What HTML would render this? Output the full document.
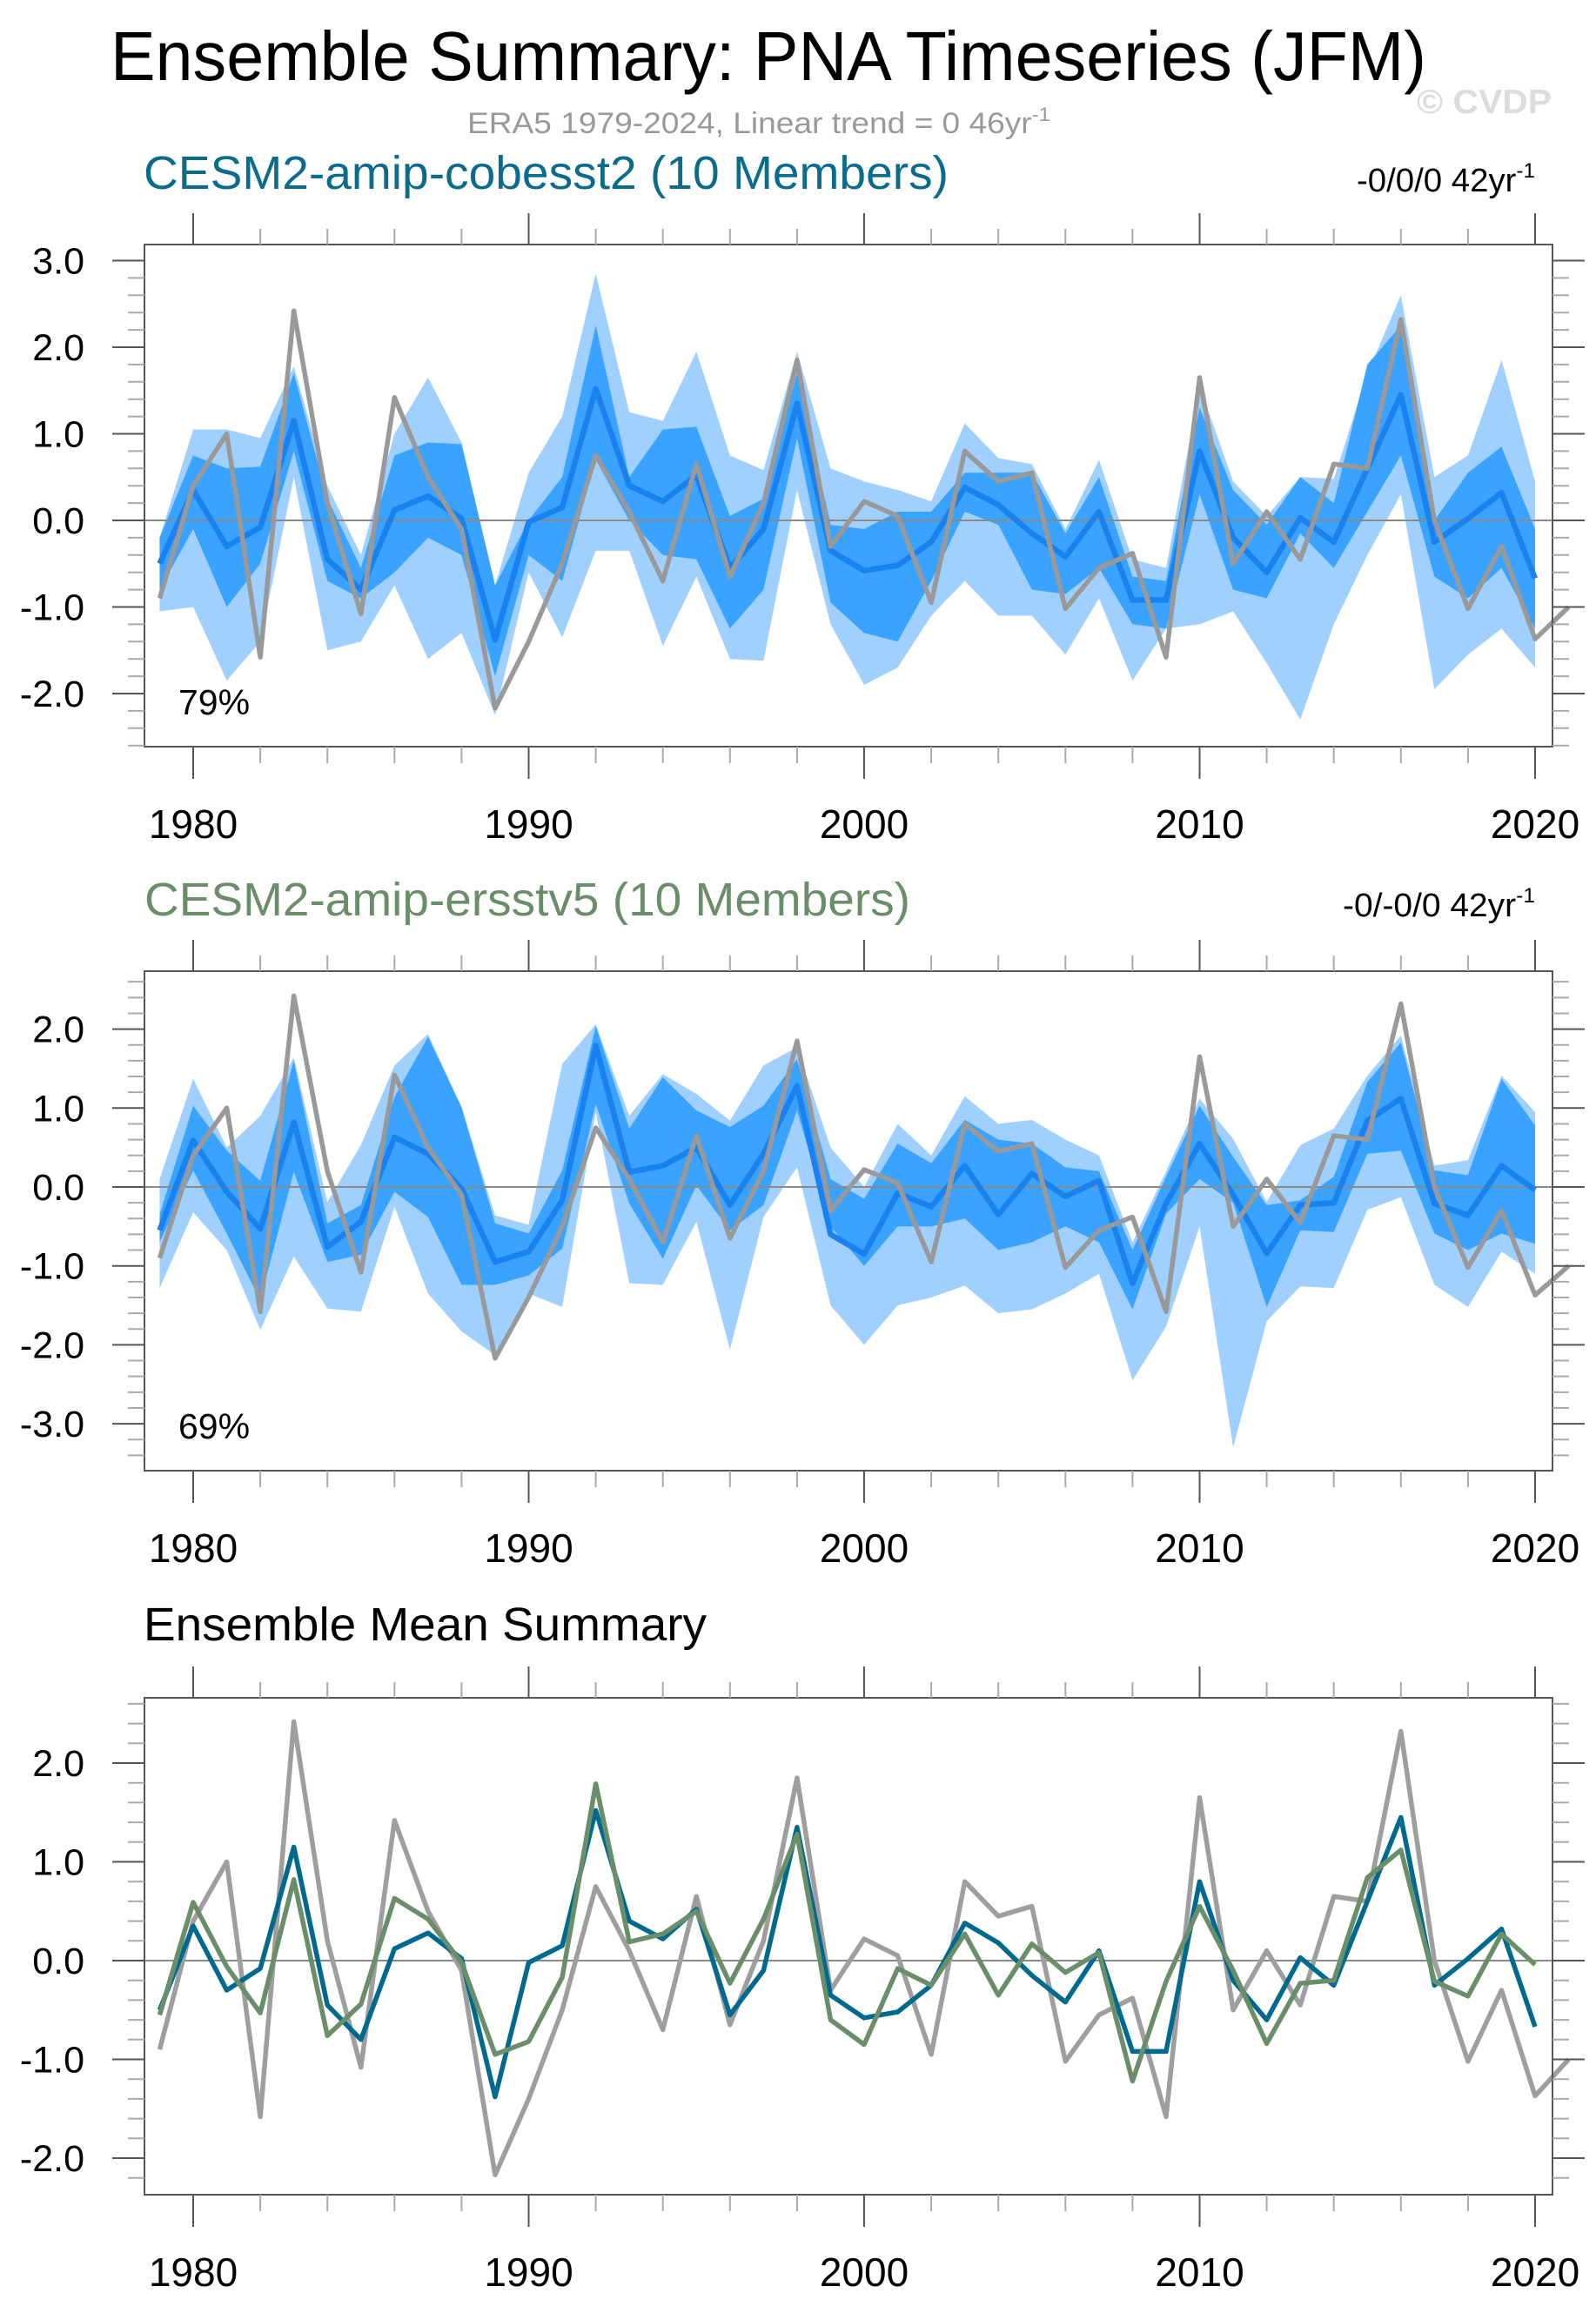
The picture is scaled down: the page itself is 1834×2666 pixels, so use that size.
<!DOCTYPE html>
<html><head><meta charset="utf-8"><style>
html,body{margin:0;padding:0;background:#fff;}
svg{display:block;font-family:"Liberation Sans",Arial,sans-serif;}
</style></head><body>
<svg id="fig" width="1834" height="2666" viewBox="0 0 1834 2666" xmlns="http://www.w3.org/2000/svg">
<rect width="1834" height="2666" fill="#fff"/>
<text x="127" y="92" font-size="80" textLength="1512" lengthAdjust="spacingAndGlyphs" fill="#000">Ensemble Summary: PNA Timeseries (JFM)</text>
<text x="537" y="153" font-size="34" textLength="670" lengthAdjust="spacingAndGlyphs" fill="#999">ERA5 1979-2024, Linear trend = 0 46yr<tspan dy="-14" font-size="22">-1</tspan></text>
<text x="1628" y="130" font-size="39" font-weight="bold" textLength="155" lengthAdjust="spacingAndGlyphs" fill="#dcdcdc">© CVDP</text>
<text x="165" y="217" font-size="54" textLength="925" lengthAdjust="spacingAndGlyphs" fill="#0b6b8c">CESM2-amip-cobesst2 (10 Members)</text>
<text x="1559" y="220" font-size="38" textLength="205" lengthAdjust="spacingAndGlyphs" fill="#000">-0/0/0 42yr<tspan dy="-16" font-size="24">-1</tspan></text>
<text x="166" y="1052" font-size="54" textLength="880" lengthAdjust="spacingAndGlyphs" fill="#6a8e6a">CESM2-amip-ersstv5 (10 Members)</text>
<text x="1543" y="1053" font-size="38" textLength="221" lengthAdjust="spacingAndGlyphs" fill="#000">-0/-0/0 42yr<tspan dy="-16" font-size="24">-1</tspan></text>
<text x="165" y="1885" font-size="54" textLength="647" lengthAdjust="spacingAndGlyphs" fill="#000">Ensemble Mean Summary</text>
<g id="layer"></g>
</svg>
<script>
const years = [];
for (let y = 1979; y <= 2020; y++) years.push(y);
const eraYears = years.concat([2021]);
const eraValues = [-0.9,0.4,1.0,-1.58,2.42,0.2,-1.08,1.42,0.5,-0.1,-2.17,-1.4,-0.5,0.75,0.1,-0.7,0.65,-0.65,0.2,1.85,-0.3,0.22,0.05,-0.95,0.8,0.45,0.55,-1.02,-0.55,-0.38,-1.58,1.65,-0.5,0.1,-0.45,0.65,0.6,2.32,0.0,-1.02,-0.3,-1.37,-1.0];
const cobMean = [-0.5,0.35,-0.3,-0.08,1.15,-0.45,-0.8,0.12,0.28,0.02,-1.38,-0.02,0.15,1.52,0.4,0.22,0.52,-0.55,-0.1,1.35,-0.35,-0.58,-0.52,-0.25,0.38,0.18,-0.15,-0.42,0.1,-0.92,-0.92,0.8,-0.2,-0.6,0.03,-0.25,0.6,1.45,-0.25,0.02,0.32,-0.67];
const cobOuterMax = [-0.2,1.05,1.05,0.95,1.78,0.4,-0.4,1.0,1.65,0.9,-0.75,0.55,1.2,2.85,1.25,1.15,1.95,0.75,0.58,1.95,0.6,0.45,0.35,0.22,1.12,0.72,0.65,-0.1,0.7,-0.45,-0.55,1.55,0.45,0.05,0.5,0.48,1.7,2.6,0.5,0.75,1.85,0.45];
const cobOuterMin = [-1.05,-1.0,-1.85,-1.4,0.5,-1.5,-1.4,-0.75,-1.6,-1.3,-2.25,-0.6,-1.35,-0.35,-0.35,-1.45,-0.65,-1.6,-1.62,0.35,-1.2,-1.9,-1.7,-1.1,-0.7,-1.1,-1.1,-1.55,-0.9,-1.85,-1.25,-1.2,-1.05,-1.65,-2.3,-1.2,-0.4,0.3,-1.95,-1.55,-1.25,-1.7];
const cobInnerMax = [-0.2,0.75,0.6,0.62,1.7,0.25,-0.55,0.75,0.9,0.88,-0.75,0.0,0.5,2.25,0.5,1.05,1.08,0.05,0.25,1.7,-0.05,-0.1,0.1,0.1,0.55,0.55,0.55,-0.15,0.5,-0.65,-0.7,1.3,0.35,-0.05,0.5,0.2,1.8,2.25,0.0,0.55,0.85,-0.1];
const cobInnerMin = [-0.8,-0.1,-1.0,-0.5,0.8,-0.7,-0.9,-0.6,-0.2,-0.4,-1.8,-0.4,-0.7,0.7,0.0,-0.4,-0.45,-1.25,-0.8,0.95,-0.95,-1.3,-1.4,-0.7,0.1,-0.05,-0.8,-0.85,-0.55,-1.2,-1.25,0.3,-0.8,-0.9,-0.15,-0.55,0.1,0.75,-0.65,-0.9,-0.55,-1.25];
const ersMean = [-0.55,0.59,-0.06,-0.53,0.82,-0.76,-0.44,0.63,0.42,-0.02,-0.95,-0.82,-0.17,1.79,0.19,0.27,0.5,-0.23,0.42,1.28,-0.6,-0.85,-0.08,-0.25,0.27,-0.35,0.17,-0.12,0.08,-1.22,-0.21,0.55,-0.1,-0.84,-0.23,-0.2,0.84,1.12,-0.21,-0.36,0.27,-0.04];
const ersOuterMax = [0.1,1.37,0.5,0.9,1.64,-0.19,0.53,1.54,1.94,1.01,-0.36,-0.48,1.56,2.06,0.9,1.43,1.18,0.84,1.54,1.77,0.5,0.0,0.8,0.4,1.15,0.8,0.85,0.6,0.4,-0.7,0.2,1.12,0.61,-0.19,0.53,0.74,1.41,1.92,0.27,0.34,1.41,0.95];
const ersOuterMin = [-1.28,-0.32,-0.8,-1.81,-0.88,-1.54,-1.58,-0.25,-1.35,-1.83,-2.13,-1.35,-1.52,0.95,-1.22,-1.24,-0.44,-2.06,-0.38,0.25,-1.5,-2.0,-1.5,-1.4,-1.25,-1.6,-1.55,-1.35,-1.1,-2.45,-1.77,-0.5,-3.3,-1.7,-1.26,-1.28,-0.29,-0.13,-1.24,-1.52,-0.82,-1.1];
const ersInnerMax = [-0.35,1.03,0.46,0.08,1.6,-0.46,-0.23,1.14,1.9,1.01,-0.46,-0.59,0.21,2.04,0.74,1.39,0.97,0.76,1.03,1.62,0.1,-0.15,0.55,0.3,0.85,0.6,0.55,0.25,0.2,-0.8,0.13,1.03,0.38,-0.23,-0.17,0.13,1.33,1.83,0.21,0.15,1.37,0.78];
const ersInnerMin = [-0.7,0.21,-0.59,-1.43,0.19,-0.95,-0.86,-0.06,-0.38,-1.24,-1.24,-1.12,-0.78,1.05,-0.21,-0.91,0.02,-0.55,-0.23,0.97,-0.5,-1.0,-0.5,-0.5,-0.4,-0.8,-0.7,-0.5,-0.7,-1.55,-0.34,0.1,-0.2,-1.52,-0.55,-0.57,0.42,0.46,-0.59,-0.8,-0.59,-0.72];
const xTickYears = [1980,1990,2000,2010,2020];
const p1Ticks = [3.0,2.0,1.0,0.0,-1.0,-2.0];
const p2Ticks = [2.0,1.0,0.0,-1.0,-2.0,-3.0];
const p3Ticks = [2.0,1.0,0.0,-1.0,-2.0];

const NS = "http://www.w3.org/2000/svg";
const layer = document.getElementById('layer');
const FL = 166, FR = 1784;
function xScale(yr){ return 222 + (yr - 1980) * 38.55; }
function mk(tag, parent, attrs){ const e = document.createElementNS(NS, tag); for (const k in attrs) e.setAttribute(k, attrs[k]); parent.appendChild(e); return e; }

function drawPanel(p){
  const g = mk('g', layer, {});
  
  
  const yS = v => p.zero - v * p.unit;
  const plot = mk('g', g, {});
  
  
  if (p.outerMax) {
    let d = '';
    years.forEach((yr,i)=>{ d += (i?'L':'M') + xScale(yr) + ',' + yS(p.outerMax[i]); });
    for (let i = years.length-1; i>=0; i--) d += 'L' + xScale(years[i]) + ',' + yS(p.outerMin[i]);
    const o = mk('path', plot, {d: d+'Z', fill:'#a0d0ff'});
    
    
    let d2 = '';
    years.forEach((yr,i)=>{ d2 += (i?'L':'M') + xScale(yr) + ',' + yS(p.innerMax[i]); });
    for (let i = years.length-1; i>=0; i--) d2 += 'L' + xScale(years[i]) + ',' + yS(p.innerMin[i]);
    const inn = mk('path', plot, {d: d2+'Z', fill:'#3aa2ff'});
    
    
  }
  const zl = mk('line', plot, {x1:FL, x2:FR, y1:yS(0), y2:yS(0), stroke:'#8a8a8a', 'stroke-width':2});
  
  
  p.lines.forEach(L=>{
    const pts = L.xs.map((yr,i)=> xScale(yr) + ',' + yS(L.vals[i])).join(' ');
    const pl = mk('polyline', plot, {points:pts, fill:'none', stroke:L.color, 'stroke-width':L.w, 'stroke-linejoin':'round'});
    
    
  });
  const fr = mk('rect', g, {x:FL, y:p.top, width:FR-FL, height:p.bottom-p.top, fill:'none', stroke:'#555', 'stroke-width':2});
  
  
  for (let yr = 1980; yr <= 2020; yr += 2) {
    const maj = yr % 10 === 0;
    const x = xScale(yr);
    const t1 = mk('line', g, {x1:x, x2:x, y1:p.top, y2:p.top-(maj?36:18), stroke: maj?'#555':'#aaa', 'stroke-width':2});
    
    
    const t2 = mk('line', g, {x1:x, x2:x, y1:p.bottom, y2:p.bottom+(maj?37:19), stroke: maj?'#555':'#aaa', 'stroke-width':2});
    
    
  }
  xTickYears.forEach(yr=>{
    const t = mk('text', g, {x:xScale(yr), y:p.bottom+105, 'font-size':46, 'text-anchor':'middle', fill:'#000'});
    t.textContent = yr;
    
    
  });
  const maxV = (p.zero - p.top) / p.unit, minV = (p.zero - p.bottom) / p.unit;
  for (let k = Math.ceil(minV*5); k <= Math.floor(maxV*5); k++) {
    const v = k/5, y = yS(v), maj = k % 5 === 0;
    const l = mk('line', g, {x1:FL, x2:FL-(maj?37:19), y1:y, y2:y, stroke: maj?'#555':'#aaa', 'stroke-width':2});
    
    
    const r = mk('line', g, {x1:FR, x2:FR+(maj?37:19), y1:y, y2:y, stroke: maj?'#555':'#aaa', 'stroke-width':2});
    
    
  }
  p.ticks.forEach(v=>{
    const t = mk('text', g, {x:97, y:yS(v)+15, 'font-size':43, 'text-anchor':'end', fill:'#000'});
    t.textContent = v.toFixed(1);
    
    
  });
  if (p.pct) {
    const t = mk('text', g, {x:205, y:p.bottom-37, 'font-size':41, fill:'#000'});
    t.textContent = p.pct;
    
    
  }
}

drawPanel({name:'panel-cobesst2', top:281, bottom:858, zero:598, unit:99.5, ticks:p1Ticks, pct:'79%',
  outerMax:cobOuterMax, outerMin:cobOuterMin, innerMax:cobInnerMax, innerMin:cobInnerMin,
  lines:[{name:'cobesst2-mean-line', xs:years, vals:cobMean, color:'#1a82ee', w:6.5},
         {name:'era5-line', xs:eraYears, vals:eraValues, color:'#999', w:5.5}]});
drawPanel({name:'panel-ersstv5', top:1116, bottom:1690, zero:1364, unit:90.7, ticks:p2Ticks, pct:'69%',
  outerMax:ersOuterMax, outerMin:ersOuterMin, innerMax:ersInnerMax, innerMin:ersInnerMin,
  lines:[{name:'ersstv5-mean-line', xs:years, vals:ersMean, color:'#1a82ee', w:6.5},
         {name:'era5-line', xs:eraYears, vals:eraValues, color:'#999', w:5.5}]});
drawPanel({name:'panel-ensemble-mean', top:1951, bottom:2522, zero:2253, unit:113.5, ticks:p3Ticks, pct:null,
  lines:[{name:'era5-line', xs:eraYears, vals:eraValues, color:'#9e9e9e', w:5.5},
         {name:'cobesst2-mean-line', xs:years, vals:cobMean, color:'#006a8e', w:5.5},
         {name:'ersstv5-mean-line', xs:years, vals:ersMean, color:'#6a8e6a', w:5.5}]});
</script>
</body></html>
